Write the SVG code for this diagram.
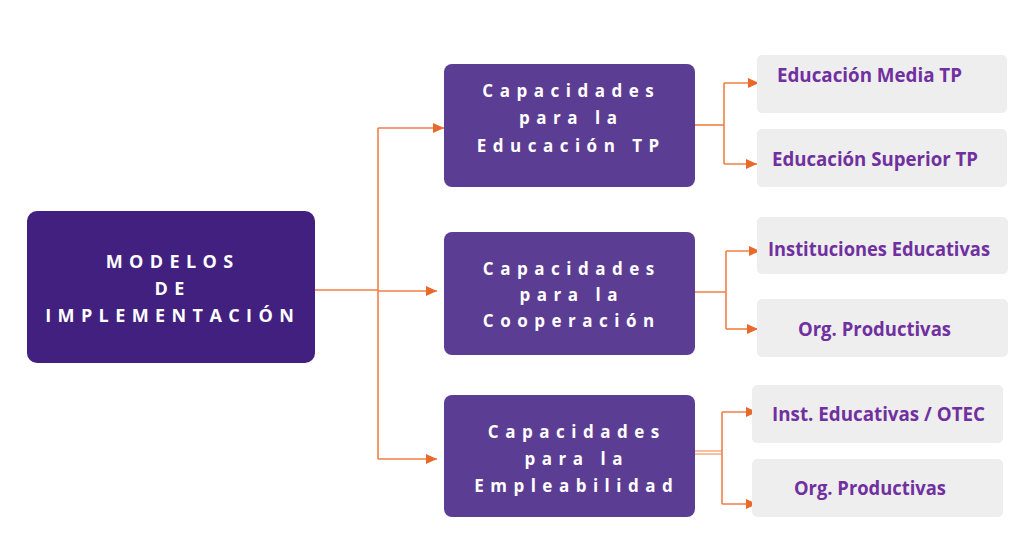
<svg xmlns="http://www.w3.org/2000/svg" width="1024" height="536" viewBox="0 0 1024 536">
<defs>
<style>
.main{fill:#42207F}
.mid{fill:#5C3D94}
.leaf{fill:#EEEEEE}
.t1{font-family:"Open Sans","Liberation Sans",sans-serif;font-weight:700;font-size:18px;letter-spacing:6.4px;fill:#FFFFFF;text-anchor:middle}
.t2{font-family:"Open Sans","Liberation Sans",sans-serif;font-weight:700;font-size:17px;letter-spacing:6.5px;fill:#FFFFFF;text-anchor:middle}
.t3{font-family:"Open Sans","Liberation Sans",sans-serif;font-weight:700;font-size:20px;fill:#7030A0}
.ln{fill:none;stroke:#F07F45;stroke-width:1.6}
.ln2{fill:none;stroke:#F07F45;stroke-width:1}
</style>
<marker id="ah" markerUnits="userSpaceOnUse" markerWidth="12" markerHeight="11" refX="11" refY="5" orient="auto">
<path d="M0,0 L11,5 L0,10 Z" fill="#E8692A"/>
</marker>
</defs>
<rect width="1024" height="536" fill="#FFFFFF"/>

<g id="connectors">
<path class="ln" d="M315,290 H378"/>
<path class="ln" d="M378,128 V459"/>
<path class="ln" d="M378,128 H444" marker-end="url(#ah)"/>
<path class="ln" d="M378,291 H437" marker-end="url(#ah)"/>
<path class="ln" d="M378,459 H437" marker-end="url(#ah)"/>

<path class="ln" d="M693,125 H724"/>
<path class="ln" d="M724,83 V164"/>
<path class="ln" d="M724,83 H759" marker-end="url(#ah)"/>
<path class="ln" d="M724,164 H757" marker-end="url(#ah)"/>

<path class="ln" d="M692,292 H726"/>
<path class="ln" d="M726,251 V329"/>
<path class="ln" d="M726,251 H760" marker-end="url(#ah)"/>
<path class="ln" d="M726,329 H758" marker-end="url(#ah)"/>

<path class="ln2" d="M688,451 H722"/>
<path class="ln2" d="M688,454 H722"/>
<path class="ln" d="M722,412 V504"/>
<path class="ln" d="M722,412 H757" marker-end="url(#ah)"/>
<path class="ln" d="M722,504 H757" marker-end="url(#ah)"/>
</g>

<g id="modelos">
<rect class="main" x="27" y="211" width="288" height="152" rx="10"/>
<text class="t1" x="172.7" y="268">MODELOS</text>
<text class="t1" x="172.7" y="295">DE</text>
<text class="t1" x="172.7" y="322">IMPLEMENTACIÓN</text>
</g>

<g id="cap-educacion">
<rect class="mid" x="444" y="64" width="251" height="123" rx="8"/>
<text class="t2" x="571.25" y="97">Capacidades</text>
<text class="t2" x="571.25" y="124">para la</text>
<text class="t2" x="571.25" y="152">Educación TP</text>
</g>

<g id="cap-cooperacion">
<rect class="mid" x="444" y="232" width="251" height="123" rx="8"/>
<text class="t2" x="571.75" y="275">Capacidades</text>
<text class="t2" x="571.75" y="301">para la</text>
<text class="t2" x="571.75" y="327">Cooperación</text>
</g>

<g id="cap-empleabilidad">
<rect class="mid" x="444" y="395" width="251" height="122" rx="8"/>
<text class="t2" x="576.75" y="438">Capacidades</text>
<text class="t2" x="576.75" y="465">para la</text>
<text class="t2" x="576.75" y="492">Empleabilidad</text>
</g>

<g id="edu-media">
<rect class="leaf" x="757" y="55" width="250" height="58" rx="5"/>
<text class="t3" x="777" y="82" textLength="185" lengthAdjust="spacingAndGlyphs">Educación Media TP</text>
</g>
<g id="edu-superior">
<rect class="leaf" x="757" y="129" width="250" height="58" rx="5"/>
<text class="t3" x="772" y="165.5" textLength="206" lengthAdjust="spacingAndGlyphs">Educación Superior TP</text>
</g>
<g id="inst-educativas">
<rect class="leaf" x="757" y="217" width="251" height="57" rx="5"/>
<text class="t3" x="768" y="256" textLength="222" lengthAdjust="spacingAndGlyphs">Instituciones Educativas</text>
</g>
<g id="org-productivas-1">
<rect class="leaf" x="757" y="299" width="251" height="58" rx="5"/>
<text class="t3" x="798" y="336" textLength="153" lengthAdjust="spacingAndGlyphs">Org. Productivas</text>
</g>
<g id="inst-otec">
<rect class="leaf" x="752" y="385" width="251" height="58" rx="5"/>
<text class="t3" x="772" y="421" textLength="213" lengthAdjust="spacingAndGlyphs">Inst. Educativas / OTEC</text>
</g>
<g id="org-productivas-2">
<rect class="leaf" x="752" y="459" width="251" height="58" rx="5"/>
<text class="t3" x="794" y="495" textLength="152" lengthAdjust="spacingAndGlyphs">Org. Productivas</text>
</g>
</svg>
